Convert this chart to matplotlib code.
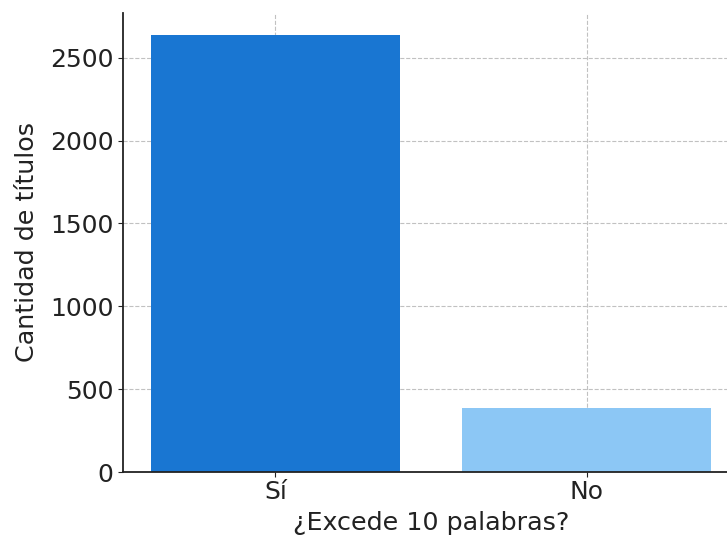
import matplotlib

matplotlib.use('Agg')
import matplotlib.pyplot as plt

# data
categories = ['Sí', 'No']
counts = [2638, 388]
bar_colors = ['#1976D2', '#8CC7F5']

fig = plt.figure(figsize=(7.27, 5.37), dpi=100, facecolor='white')
# axes right edge runs past the figure edge like in the reference
ax = fig.add_axes([123 / 727, 65 / 537, 616 / 727, 459 / 537])

ax.bar(categories, counts, color=bar_colors, width=0.8, zorder=2)

ax.set_xlabel('¿Excede 10 palabras?', fontsize=18.3, color='#222222', labelpad=5)
ax.set_ylabel('Cantidad de títulos', fontsize=18.3, color='#222222', labelpad=8)
ax.tick_params(labelsize=18, colors='#222222')
ax.tick_params(axis='x', pad=2.5)

ax.grid(color='#bbbbbb', linestyle='--', linewidth=0.8, alpha=0.9)
for line in ax.get_xgridlines() + ax.get_ygridlines():
    line.set_zorder(3)

ax.spines['top'].set_visible(False)
ax.spines['right'].set_visible(False)
for s in ['left', 'bottom']:
    ax.spines[s].set_linewidth(1.3)
    ax.spines[s].set_color('#222222')

fig.savefig('out.png', dpi=100, facecolor='white')
